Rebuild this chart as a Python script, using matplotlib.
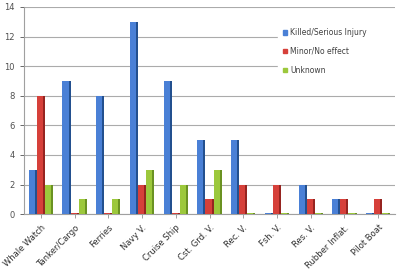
import numpy as np
import matplotlib
matplotlib.use("Agg")
import matplotlib.pyplot as plt
from matplotlib.patches import Patch

CATEGORIES = ["Whale Watch", "Tanker/Cargo", "Ferries", "Navy V.", "Cruise Ship",
              "Cst. Grd. V.", "Rec. V.", "Fsh. V.", "Res. V.", "Rubber Inflat.",
              "Pilot Boat"]
KILLED = [3, 9, 8, 13, 9, 5, 5, 0, 2, 1, 0]
MINOR = [8, 0, 0, 2, 0, 1, 2, 2, 1, 1, 1]
UNKNOWN = [2, 1, 1, 3, 2, 3, 0, 0, 0, 0, 0]
SERIES = [("Killed/Serious Injury", KILLED), ("Minor/No effect", MINOR),
          ("Unknown", UNKNOWN)]
YTICKS = [0, 2, 4, 6, 8, 10, 12, 14]

FACE = ["#4a80d6", "#d6403a", "#9cc83c"]
SIDE = ["#23508f", "#962420", "#6a9222"]

fig = plt.figure(figsize=(4.0, 2.69), dpi=100)
ax = fig.add_axes([0.06, 0.204, 0.9275, 0.77])

x = np.arange(len(CATEGORIES))
w = 0.24
side_w = 0.06
for si, (name, vals) in enumerate(SERIES):
    off = (si - 1) * w
    h = np.array([v if v > 0 else 0.06 for v in vals], dtype=float)
    ax.bar(x + off - side_w / 2, h, width=w - side_w, color=FACE[si],
           linewidth=0, zorder=3)
    ax.bar(x + off + (w - side_w) / 2, h, width=side_w, color=SIDE[si],
           linewidth=0, zorder=3)

ax.set_xlim(-0.5, len(CATEGORIES) - 0.5)
ax.set_ylim(0, 14)
ax.set_yticks(YTICKS)
ax.tick_params(axis="y", labelsize=6, colors="#505050", length=3, width=0.6)
ax.tick_params(axis="x", length=3, width=0.6, colors="#909090")
ax.set_xticks(x)
ax.set_xticklabels(CATEGORIES, rotation=45, ha="right", rotation_mode="anchor",
                   fontsize=6, color="#303030")
ax.grid(True, axis="y", color="#ababab", linewidth=0.8, zorder=0)
ax.set_axisbelow(True)
for s in ["top", "right"]:
    ax.spines[s].set_visible(False)
for s in ["left", "bottom"]:
    ax.spines[s].set_color("#a0a0a0")
    ax.spines[s].set_linewidth(0.8)

handles = [Patch(color=FACE[i], label=SERIES[i][0]) for i in range(3)]
leg = ax.legend(handles=handles, loc="upper left",
                bbox_to_anchor=(0.675, 0.6, 0.35, 0.34), mode="expand",
                fontsize=5.5, frameon=True, handlelength=0.6, handleheight=0.6,
                labelspacing=1.3, handletextpad=0.4, borderpad=0.6)
leg.get_frame().set_edgecolor("white")
leg.get_frame().set_facecolor("white")
leg.get_frame().set_alpha(1)
for t in leg.get_texts():
    t.set_color("#404040")

fig.savefig("out.png", dpi=100)
